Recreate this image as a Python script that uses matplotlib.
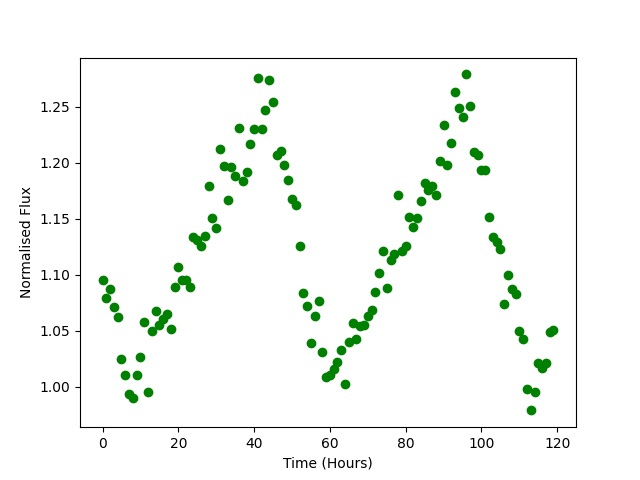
import numpy as np
import matplotlib
matplotlib.use("Agg")
import matplotlib.pyplot as plt

# hourly samples, one per hour
hours = np.arange(120)

flux = [1.095, 1.079, 1.087, 1.071, 1.062, 1.025, 1.011, 0.994, 0.990, 1.011,
        1.027, 1.058, 0.995, 1.050, 1.068, 1.055, 1.061, 1.065, 1.052, 1.089,
        1.107, 1.095, 1.095, 1.089, 1.134, 1.131, 1.126, 1.135, 1.179, 1.151,
        1.142, 1.212, 1.197, 1.167, 1.196, 1.188, 1.231, 1.184, 1.192, 1.217,
        1.230, 1.276, 1.230, 1.247, 1.274, 1.254, 1.207, 1.211, 1.198, 1.185,
        1.168, 1.162, 1.126, 1.084, 1.072, 1.039, 1.063, 1.077, 1.031, 1.009,
        1.011, 1.016, 1.022, 1.033, 1.003, 1.040, 1.057, 1.043, 1.054, 1.055,
        1.063, 1.069, 1.085, 1.102, 1.121, 1.088, 1.113, 1.119, 1.171, 1.121,
        1.126, 1.152, 1.143, 1.151, 1.166, 1.182, 1.176, 1.179, 1.171, 1.202,
        1.234, 1.198, 1.218, 1.263, 1.249, 1.241, 1.279, 1.251, 1.210, 1.207,
        1.194, 1.194, 1.152, 1.134, 1.129, 1.123, 1.074, 1.100, 1.087, 1.083,
        1.050, 1.043, 0.998, 0.979, 0.995, 1.021, 1.017, 1.021, 1.049, 1.051]

plt.figure(figsize=(6.4, 4.8), dpi=100)
plt.plot(hours, flux, 'o', color='green')
plt.xlabel("Time (Hours)")
plt.ylabel("Normalised Flux")
plt.savefig("out.png")
